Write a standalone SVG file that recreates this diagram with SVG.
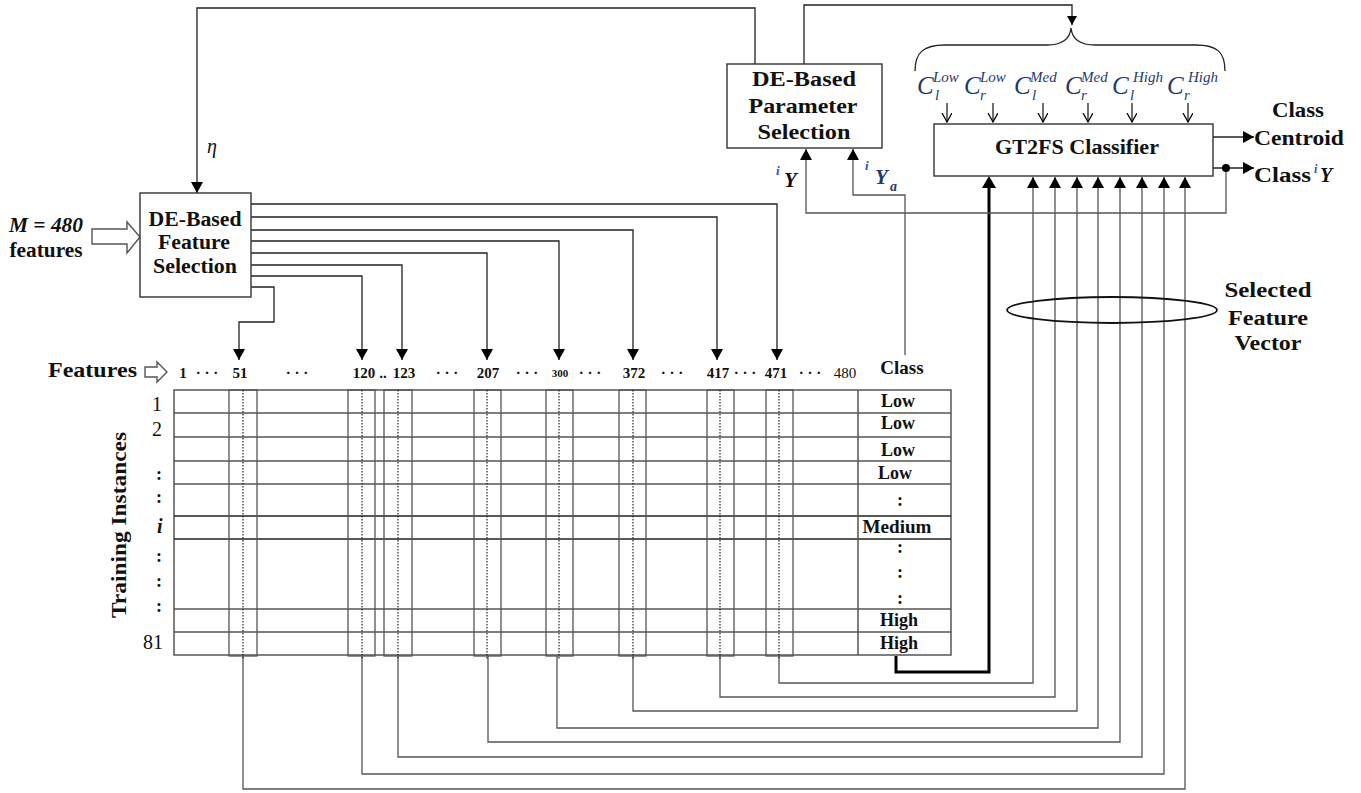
<svg xmlns="http://www.w3.org/2000/svg" width="1361" height="793" viewBox="0 0 1361 793">
<style>
text { font-family: "Liberation Serif", "Times New Roman", serif; fill: #111; }
.b { font-weight: bold; }
.it { font-style: italic; }
.mid { text-anchor: middle; }
.box { fill: #fff; stroke: #333; stroke-width: 1.4; }
.ln { fill: none; stroke: #222; stroke-width: 1.3; }
.gl { fill: none; stroke: #555; stroke-width: 1.3; }
.thick { fill: none; stroke: #000; stroke-width: 3; }
.dot { stroke: #222; stroke-width: 1.2; stroke-dasharray: 1.5 1.5; }
.hollow { fill: #fff; stroke: #555; stroke-width: 1.4; }
.cl { fill: #1f3a6e; }
.blue { fill: #2a52be; }
.fn { font-size: 15px; font-weight: bold; text-anchor: middle; }
.cls { font-size: 18px; font-weight: bold; text-anchor: middle; }
</style>
<defs>
<marker id="ah" markerWidth="12" markerHeight="12" refX="11" refY="6" orient="auto" markerUnits="userSpaceOnUse">
<path d="M0,0 L11,6 L0,12 z" fill="#000"/>
</marker>
<marker id="ahs" markerWidth="10" markerHeight="10" refX="9" refY="5" orient="auto" markerUnits="userSpaceOnUse">
<path d="M0,0 L9,5 L0,10 z" fill="#000"/>
</marker>
<marker id="av" markerWidth="12" markerHeight="12" refX="9" refY="5" orient="auto" markerUnits="userSpaceOnUse">
<path d="M0,0 L9,5 L0,10" fill="none" stroke="#000" stroke-width="1.3"/>
</marker>
</defs>

<!-- connectors -->
<g id="connectors">
  <!-- feedback from parameter selection to feature selection -->
  <path class="ln" d="M755,64 V8 H197 V193" marker-end="url(#ah)"/>
  <!-- parameter selection to centroids brace -->
  <path class="ln" d="M804,64 V5 H1072 V25" marker-end="url(#ahs)"/>
  <!-- feature selection outputs -->
  <path class="ln" d="M251,204 H777 V360" marker-end="url(#ah)"/>
  <path class="ln" d="M251,217 H717 V360" marker-end="url(#ah)"/>
  <path class="ln" d="M251,230 H633 V360" marker-end="url(#ah)"/>
  <path class="ln" d="M251,241 H559 V360" marker-end="url(#ah)"/>
  <path class="ln" d="M251,253 H487 V360" marker-end="url(#ah)"/>
  <path class="ln" d="M251,265 H402 V360" marker-end="url(#ah)"/>
  <path class="ln" d="M251,276 H362 V360" marker-end="url(#ah)"/>
  <path class="ln" d="M251,287 H274 V322 H239 V360" marker-end="url(#ah)"/>
  <!-- selected columns to classifier -->
  <path class="gl" d="M779,656 V683 H1033 V177" marker-end="url(#ah)"/>
  <path class="gl" d="M720,656 V697 H1055 V177" marker-end="url(#ah)"/>
  <path class="gl" d="M633,656 V711 H1077 V177" marker-end="url(#ah)"/>
  <path class="gl" d="M557,656 V728 H1098 V177" marker-end="url(#ah)"/>
  <path class="gl" d="M488,656 V742 H1120 V177" marker-end="url(#ah)"/>
  <path class="gl" d="M398,656 V757 H1142 V177" marker-end="url(#ah)"/>
  <path class="gl" d="M362,656 V774 H1164 V177" marker-end="url(#ah)"/>
  <path class="gl" d="M243,656 V789 H1185 V177" marker-end="url(#ah)"/>
  <path class="thick" d="M896,656 V672 H989 V184"/>
  <path d="M982,188 L989,176 L996,188 z" fill="#000"/>
  <!-- class label Y_a to parameter selection -->
  <path class="gl" d="M905,355 V195 H853 V149" marker-end="url(#ah)"/>
  <!-- predicted class iY back to parameter selection -->
  <path class="gl" d="M1226,168 V213 H806 V149" marker-end="url(#ah)"/>
  <!-- outputs -->
  <path class="ln" d="M1213,137 H1254" marker-end="url(#ah)"/>
  <path class="ln" d="M1213,168 H1254" marker-end="url(#ah)"/>
  <circle cx="1226" cy="168" r="4" fill="#000"/>
  <!-- centroid parameter arrows -->
  <path class="ln" d="M947,103 V122" marker-end="url(#av)"/>
  <path class="ln" d="M993,103 V122" marker-end="url(#av)"/>
  <path class="ln" d="M1043,103 V122" marker-end="url(#av)"/>
  <path class="ln" d="M1088,103 V122" marker-end="url(#av)"/>
  <path class="ln" d="M1132,103 V122" marker-end="url(#av)"/>
  <path class="ln" d="M1188,103 V122" marker-end="url(#av)"/>
  <!-- hollow input arrows -->
  <polygon class="hollow" points="92,229 127,229 127,222 140,237 127,253 127,244 92,244"/>
  <polygon class="hollow" points="145,367 157,367 157,362 167,372 157,382 157,377 145,377"/>
</g>

<!-- DE-based feature selection -->
<g id="feature-selection">
  <rect class="box" x="140" y="193" width="111" height="104"/>
  <text class="b mid" x="195" y="226" font-size="20" textLength="93" lengthAdjust="spacingAndGlyphs">DE-Based</text>
  <text class="b mid" x="194" y="249" font-size="20" textLength="72" lengthAdjust="spacingAndGlyphs">Feature</text>
  <text class="b mid" x="195" y="273" font-size="20" textLength="84" lengthAdjust="spacingAndGlyphs">Selection</text>
</g>

<g id="input-label">
  <text class="b it mid" x="46" y="232" font-size="20" textLength="74" lengthAdjust="spacingAndGlyphs">M = 480</text>
  <text class="b mid" x="46" y="257" font-size="20" textLength="73" lengthAdjust="spacingAndGlyphs">features</text>
  <text class="it" x="207" y="153" font-size="20">η</text>
</g>

<!-- DE-based parameter selection -->
<g id="parameter-selection">
  <rect class="box" x="727" y="64" width="155" height="84"/>
  <text class="b mid" x="804" y="86" font-size="20" textLength="104" lengthAdjust="spacingAndGlyphs">DE-Based</text>
  <text class="b mid" x="803" y="113" font-size="20" textLength="109" lengthAdjust="spacingAndGlyphs">Parameter</text>
  <text class="b mid" x="804" y="139" font-size="20" textLength="93" lengthAdjust="spacingAndGlyphs">Selection</text>
  <text class="b it blue" x="776" y="175" font-size="13">i</text>
  <text class="b it" x="784" y="187" font-size="21">Y</text>
  <text class="b it blue" x="865" y="170" font-size="13">i</text>
  <text class="b it cl" x="875" y="184" font-size="21">Y</text>
  <text class="b it cl" x="890" y="191" font-size="14">a</text>
</g>

<!-- class centroid parameters -->
<g id="centroids">
  <path class="ln" d="M915,71 C915,52 924,45 945,45 L1047,45 C1063,45 1070,38 1071,28 C1072,38 1079,45 1095,45 L1196,45 C1217,45 1225,52 1225,71"/>
  <text class="it cl" x="917" y="94" font-size="25">C</text>
  <text class="it cl" x="933" y="82" font-size="15">Low</text>
  <text class="it cl" x="935" y="100" font-size="15">l</text>
  <text class="it cl" x="964" y="94" font-size="25">C</text>
  <text class="it cl" x="980" y="82" font-size="15">Low</text>
  <text class="it cl" x="980" y="100" font-size="15">r</text>
  <text class="it cl" x="1014" y="94" font-size="25">C</text>
  <text class="it cl" x="1030" y="82" font-size="15">Med</text>
  <text class="it cl" x="1032" y="100" font-size="15">l</text>
  <text class="it cl" x="1065" y="94" font-size="25">C</text>
  <text class="it cl" x="1081" y="82" font-size="15">Med</text>
  <text class="it cl" x="1081" y="100" font-size="15">r</text>
  <text class="it cl" x="1112" y="94" font-size="25">C</text>
  <text class="it cl" x="1133" y="82" font-size="15">High</text>
  <text class="it cl" x="1130" y="100" font-size="15">l</text>
  <text class="it cl" x="1167" y="94" font-size="25">C</text>
  <text class="it cl" x="1188" y="82" font-size="15">High</text>
  <text class="it cl" x="1184" y="100" font-size="15">r</text>
</g>

<!-- GT2FS classifier -->
<g id="classifier">
  <rect class="box" x="934" y="124" width="279" height="52"/>
  <text class="b mid" x="1077" y="154" font-size="20" textLength="164" lengthAdjust="spacingAndGlyphs">GT2FS Classifier</text>
</g>

<g id="outputs">
  <text class="b mid" x="1298" y="117" font-size="20" textLength="52" lengthAdjust="spacingAndGlyphs">Class</text>
  <text class="b mid" x="1299" y="145" font-size="20" textLength="90" lengthAdjust="spacingAndGlyphs">Centroid</text>
  <text class="b" x="1254" y="182" font-size="20" textLength="57" lengthAdjust="spacingAndGlyphs">Class</text>
  <text class="b it blue" x="1314" y="173" font-size="12">i</text>
  <text class="b it" x="1320" y="182" font-size="20">Y</text>
</g>

<g id="selected-feature-vector">
  <ellipse cx="1112" cy="310" rx="105" ry="13" fill="none" stroke="#111" stroke-width="1.8"/>
  <text class="b mid" x="1268" y="297" font-size="20" textLength="87" lengthAdjust="spacingAndGlyphs">Selected</text>
  <text class="b mid" x="1268" y="325" font-size="20" textLength="80" lengthAdjust="spacingAndGlyphs">Feature</text>
  <text class="b mid" x="1268" y="350" font-size="20" textLength="67" lengthAdjust="spacingAndGlyphs">Vector</text>
</g>

<!-- feature header -->
<g id="feature-header">
  <text class="b" x="48" y="377" font-size="21" textLength="89" lengthAdjust="spacingAndGlyphs">Features</text>
  <text class="fn" x="183" y="378">1</text>
  <text class="fn" x="207" y="378">· · ·</text>
  <text class="fn" x="240" y="378">51</text>
  <text class="fn" x="297" y="378">· · ·</text>
  <text class="fn" x="364" y="378">120</text>
  <text class="fn" x="383" y="378">..</text>
  <text class="fn" x="404" y="378">123</text>
  <text class="fn" x="447" y="378">· · ·</text>
  <text class="fn" x="488" y="378">207</text>
  <text class="fn" x="527" y="378">· · ·</text>
  <text class="b mid" x="560" y="377" font-size="11">300</text>
  <text class="fn" x="590" y="378">· · ·</text>
  <text class="fn" x="634" y="378">372</text>
  <text class="fn" x="672" y="378">· · ·</text>
  <text class="fn" x="718" y="378">417</text>
  <text class="fn" x="745" y="378">· · ·</text>
  <text class="fn" x="776" y="378">471</text>
  <text class="fn" x="810" y="378">· · ·</text>
  <text class="mid" x="845" y="378" font-size="15" fill="#333">480</text>
  <text class="b mid" x="902" y="374" font-size="19">Class</text>
</g>

<!-- training table -->
<g id="table">
  <rect x="174" y="390" width="777" height="265" fill="none" stroke="#555" stroke-width="1.5"/>
  <g class="gl">
    <path d="M174,413 H951 M174,437 H951 M174,461 H951 M174,484 H951 M174,609 H951 M174,632 H951"/>
  </g>
  <path d="M174,516 H951 M174,539 H951" fill="none" stroke="#222" stroke-width="1.3"/>
  <line x1="858" y1="390" x2="858" y2="655" stroke="#555" stroke-width="1.5"/>
  <g class="gl">
    <rect x="229" y="390" width="28" height="266"/>
    <rect x="348" y="390" width="27" height="266"/>
    <rect x="384" y="390" width="28" height="266"/>
    <rect x="474" y="390" width="27" height="266"/>
    <rect x="546" y="390" width="27" height="266"/>
    <rect x="619" y="390" width="27" height="266"/>
    <rect x="707" y="390" width="27" height="266"/>
    <rect x="766" y="390" width="27" height="266"/>
  </g>
  <g class="dot">
    <line x1="243" y1="390" x2="243" y2="660"/>
    <line x1="362" y1="390" x2="362" y2="660"/>
    <line x1="398" y1="390" x2="398" y2="660"/>
    <line x1="487" y1="390" x2="487" y2="660"/>
    <line x1="559" y1="390" x2="559" y2="660"/>
    <line x1="633" y1="390" x2="633" y2="660"/>
    <line x1="720" y1="390" x2="720" y2="660"/>
    <line x1="779" y1="390" x2="779" y2="660"/>
  </g>
  <text class="cls" x="898" y="407">Low</text>
  <text class="cls" x="898" y="429">Low</text>
  <text class="cls" x="898" y="456">Low</text>
  <text class="cls" x="895" y="479">Low</text>
  <text class="cls" x="900" y="506">:</text>
  <text class="cls" x="897" y="533" textLength="69" lengthAdjust="spacingAndGlyphs">Medium</text>
  <text class="cls" x="900" y="553">:</text>
  <text class="cls" x="900" y="578">:</text>
  <text class="cls" x="900" y="604">:</text>
  <text class="cls" x="899" y="626">High</text>
  <text class="cls" x="899" y="649">High</text>
</g>

<g id="row-labels">
  <text x="162" y="411" font-size="20" text-anchor="end">1</text>
  <text x="162" y="436" font-size="20" text-anchor="end">2</text>
  <text class="b" x="156" y="480" font-size="18">:</text>
  <text class="b" x="156" y="503" font-size="18">:</text>
  <text class="b it" x="157" y="533" font-size="20">i</text>
  <text class="b" x="156" y="562" font-size="18">:</text>
  <text class="b" x="156" y="587" font-size="18">:</text>
  <text class="b" x="156" y="612" font-size="18">:</text>
  <text x="163" y="649" font-size="20" text-anchor="end">81</text>
  <text class="b mid" transform="translate(126,525) rotate(-90)" font-size="22" textLength="186" lengthAdjust="spacingAndGlyphs">Training Instances</text>
</g>
</svg>
